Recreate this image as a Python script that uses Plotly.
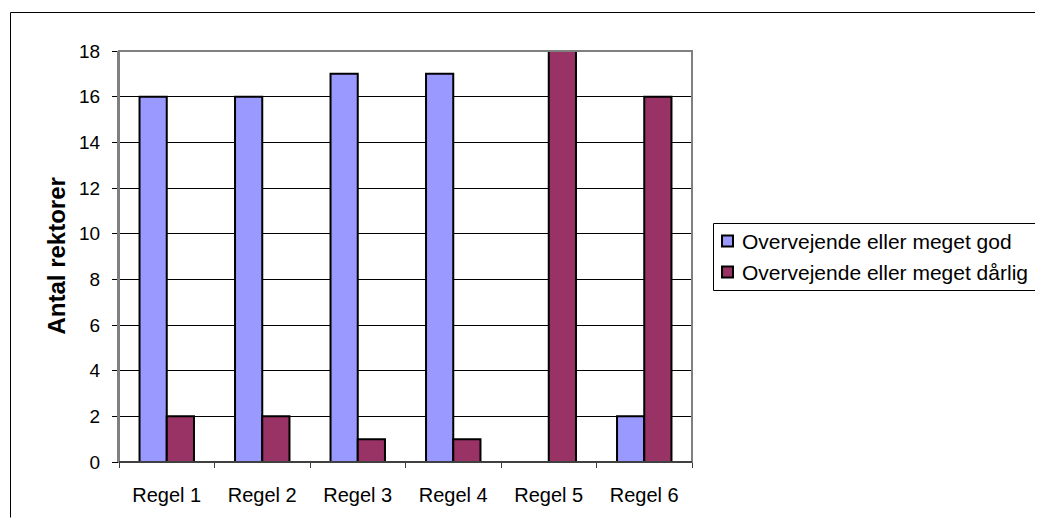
import plotly.graph_objects as go

categories = ["Regel 1", "Regel 2", "Regel 3", "Regel 4", "Regel 5", "Regel 6"]
god_values = [16, 16, 17, 17, 0, 2]
daarlig_values = [2, 2, 1, 1, 18, 16]
series_names = ["Overvejende eller meget god", "Overvejende eller meget dårlig"]
series_colors = ["#9999FF", "#993366"]
y_title = "Antal rektorer"

OFF = 8  # page body margin
W, H = 1043 - OFF, 526 - 2 * OFF
L, R, T, B = 119, 692, 51, 462  # page coordinates of plot area
pw, ph = R - L, B - T
XEND = 1042
YEND = 517.5

def px(x):
    return (x - L) / pw

def py(y):
    return (B - y) / ph

fig = go.Figure()
for name, vals, col in zip(series_names, [god_values, daarlig_values], series_colors):
    fig.add_trace(go.Bar(x=categories, y=vals, name=name, showlegend=False,
                         marker=dict(color=col, line=dict(color="black", width=2))))

font = "Liberation Sans, Arial, sans-serif"

def hline(x0, x1, y, color="black", width=1, layer="below"):
    return dict(type="line", xref="paper", yref="paper", x0=px(x0), x1=px(x1),
                y0=py(y), y1=py(y), line=dict(color=color, width=width), layer=layer)

def vline(x, y0, y1, color="black", width=1, layer="below"):
    return dict(type="line", xref="paper", yref="paper", x0=px(x), x1=px(x),
                y0=py(y0), y1=py(y1), line=dict(color=color, width=width), layer=layer)

shapes = [
    dict(type="rect", xref="paper", yref="paper", x0=0, x1=1, y0=0, y1=1,
         line=dict(color="#808080", width=2), layer="above"),
    dict(type="line", xref="paper", yref="paper", x0=0, x1=1, y0=0, y1=0,
         line=dict(color="black", width=1), layer="above"),
    hline(10.5, XEND, 12.5),
    vline(10.5, 12.5, YEND),
    hline(713.5, XEND, 223.5),
    hline(713.5, XEND, 290.5),
    vline(713.5, 223.5, 290.5),
]
annotations = [dict(text=y_title, x=px(56), y=py(256.5), xref="paper", yref="paper",
                    xanchor="center", yanchor="middle",
                    showarrow=False, textangle=-90,
                    font=dict(size=24, family=font, color="black", weight="bold"))]

leg_y = [241, 272]
for name, col, yy in zip(series_names, series_colors, leg_y):
    shapes.append(dict(type="rect", xref="paper", yref="paper",
                       x0=px(722), x1=px(733), y0=py(yy + 5.5), y1=py(yy - 5.5),
                       line=dict(color="black", width=2), fillcolor=col, layer="above"))
    annotations.append(dict(text=name, x=px(740), y=py(yy), xref="paper", yref="paper",
                            xanchor="left", yanchor="middle", showarrow=False,
                            font=dict(size=21, family=font, color="black")))

fig.update_layout(
    width=W, height=H,
    margin=dict(l=L - OFF, r=W - (R - OFF), t=T - OFF, b=H - (B - OFF), pad=0),
    paper_bgcolor="white", plot_bgcolor="white",
    barmode="group", bargap=0.43, bargroupgap=0,
    font=dict(family=font, size=19, color="black"),
    showlegend=False,
    xaxis=dict(showline=True, linecolor="black", linewidth=1,
               ticks="outside", tickson="boundaries", ticklen=5,
               tickcolor="#404040", tickwidth=1, showgrid=False,
               ticklabelstandoff=15, tickfont=dict(size=20)),
    yaxis=dict(range=[0, 18], dtick=2, showline=True, linecolor="#808080",
               linewidth=2, ticks="outside", ticklen=5, tickcolor="black",
               tickwidth=1, showgrid=True, gridcolor="black", gridwidth=1,
               zeroline=False, tickfont=dict(size=19), ticklabelstandoff=8),
    annotations=annotations,
    shapes=shapes,
)

fig.write_html("out.html")
